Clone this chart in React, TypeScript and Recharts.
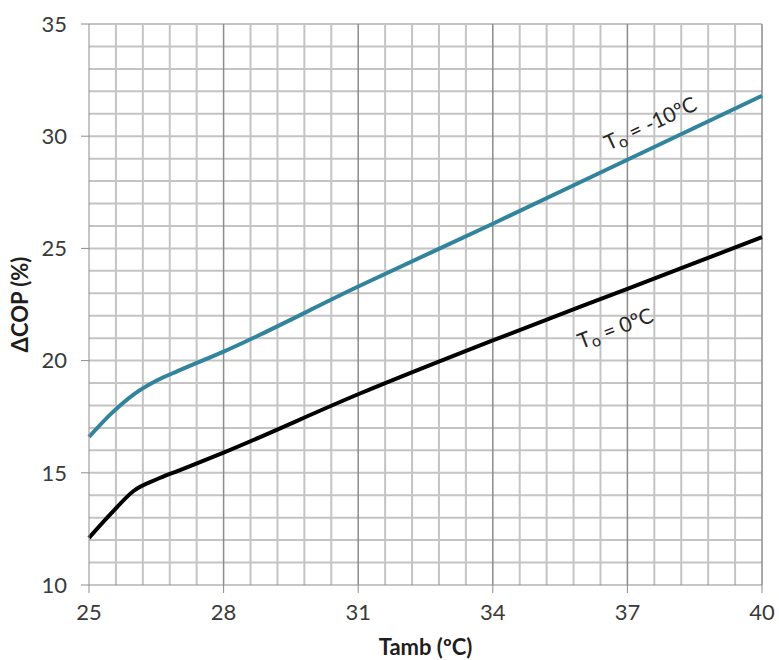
import React from "react";
import { LineChart, Line, XAxis, YAxis, ReferenceLine, ReferenceDot } from "recharts";

// Tamb (ºC)
const tamb = [25, 25.5, 26, 26.5, 27, 28, 31, 34, 37, 40];
// ΔCOP (%) for To = -10ºC
const copMinus10 = [16.6, 17.65, 18.5, 19.1, 19.55, 20.4, 23.3, 26.1, 28.95, 31.8];
// ΔCOP (%) for To = 0ºC
const copZero = [12.1, 13.2, 14.2, 14.7, 15.1, 15.9, 18.5, 20.9, 23.2, 25.5];

const xTicks = [25, 28, 31, 34, 37, 40];
const yTicks = [10, 15, 20, 25, 30, 35];
const xMinor = [25.6, 26.2, 26.8, 27.4, 28.6, 29.2, 29.8, 30.4, 31.6, 32.2, 32.8, 33.4, 34.6, 35.2, 35.8, 36.4, 37.6, 38.2, 38.8, 39.4];
const xMajor = [28, 31, 34, 37, 40];
const yGrid = [11, 12, 13, 14, 15, 16, 17, 18, 19, 20, 21, 22, 23, 24, 25, 26, 27, 28, 29, 30, 31, 32, 33, 34, 35];

const data = tamb.map((t, i) => ({ t, a: copMinus10[i], b: copZero[i] }));

const FONT = "Lato, 'Liberation Sans', sans-serif";
const TEAL = "#31849B";

// rotated curve label with a subscript "o"
const SubLabel = ({ viewBox, text, rot }: any) => {
  const cx = viewBox.x + (viewBox.width || 0) / 2;
  const cy = viewBox.y + (viewBox.height || 0) / 2;
  return (
    <text
      x={cx}
      y={cy}
      textAnchor="middle"
      dominantBaseline="central"
      transform={`rotate(${rot} ${cx} ${cy})`}
      fontFamily={FONT}
      fontSize={21}
      fill="#262626"
    >
      T
      <tspan dy={5} fontSize={16}>o</tspan>
      <tspan dy={-5}>{text}</tspan>
    </text>
  );
};

export default function App() {
  return (
    <div style={{ position: "absolute", left: 0, top: 0, width: 779, height: 660, background: "#fff" }}>
      <LineChart width={779} height={660} data={data} margin={{ top: 24, right: 17, left: 0, bottom: 0 }}>
        <XAxis
          dataKey="t"
          type="number"
          domain={[25, 40]}
          ticks={xTicks}
          height={75}
          tickSize={8}
          tickMargin={11}
          stroke="#8c8c8c"
          tick={{ fill: "#3a3a3a", fontSize: 22, fontFamily: FONT }}
          label={{ value: "Tamb (ºC)", position: "insideBottom", offset: 5, fill: "#1e1e1e", fontSize: 22, fontWeight: 700, fontFamily: FONT }}
        />
        <YAxis
          type="number"
          domain={[10, 35]}
          ticks={yTicks}
          width={89}
          tickSize={8}
          tickMargin={14}
          stroke="#8c8c8c"
          tick={{ fill: "#3a3a3a", fontSize: 22, fontFamily: FONT }}
          label={{ value: "ΔCOP (%)", angle: -90, position: "insideLeft", offset: 20, fill: "#1e1e1e", fontSize: 22, fontWeight: 700, fontFamily: FONT, style: { textAnchor: "middle" } }}
        />
        {yGrid.map((v) => (
          <ReferenceLine key={`h${v}`} y={v} stroke="#c4c4c4" strokeWidth={2} />
        ))}
        {xMinor.map((v) => (
          <ReferenceLine key={`v${v}`} x={v} stroke="#c4c4c4" strokeWidth={2} />
        ))}
        {xMajor.map((v) => (
          <ReferenceLine key={`m${v}`} x={v} stroke="#8c8c8c" strokeWidth={1.5} />
        ))}
        <Line type="monotone" dataKey="a" stroke={TEAL} strokeWidth={4} dot={false} isAnimationActive={false} />
        <Line type="monotone" dataKey="b" stroke="#000" strokeWidth={4} dot={false} isAnimationActive={false} />
        <ReferenceDot x={37.5} y={30.63} r={0} stroke="none" fill="none" label={<SubLabel text=" = -10ºC" rot={-25} />} />
        <ReferenceDot x={36.72} y={21.5} r={0} stroke="none" fill="none" label={<SubLabel text=" = 0ºC" rot={-21} />} />
      </LineChart>
    </div>
  );
}
